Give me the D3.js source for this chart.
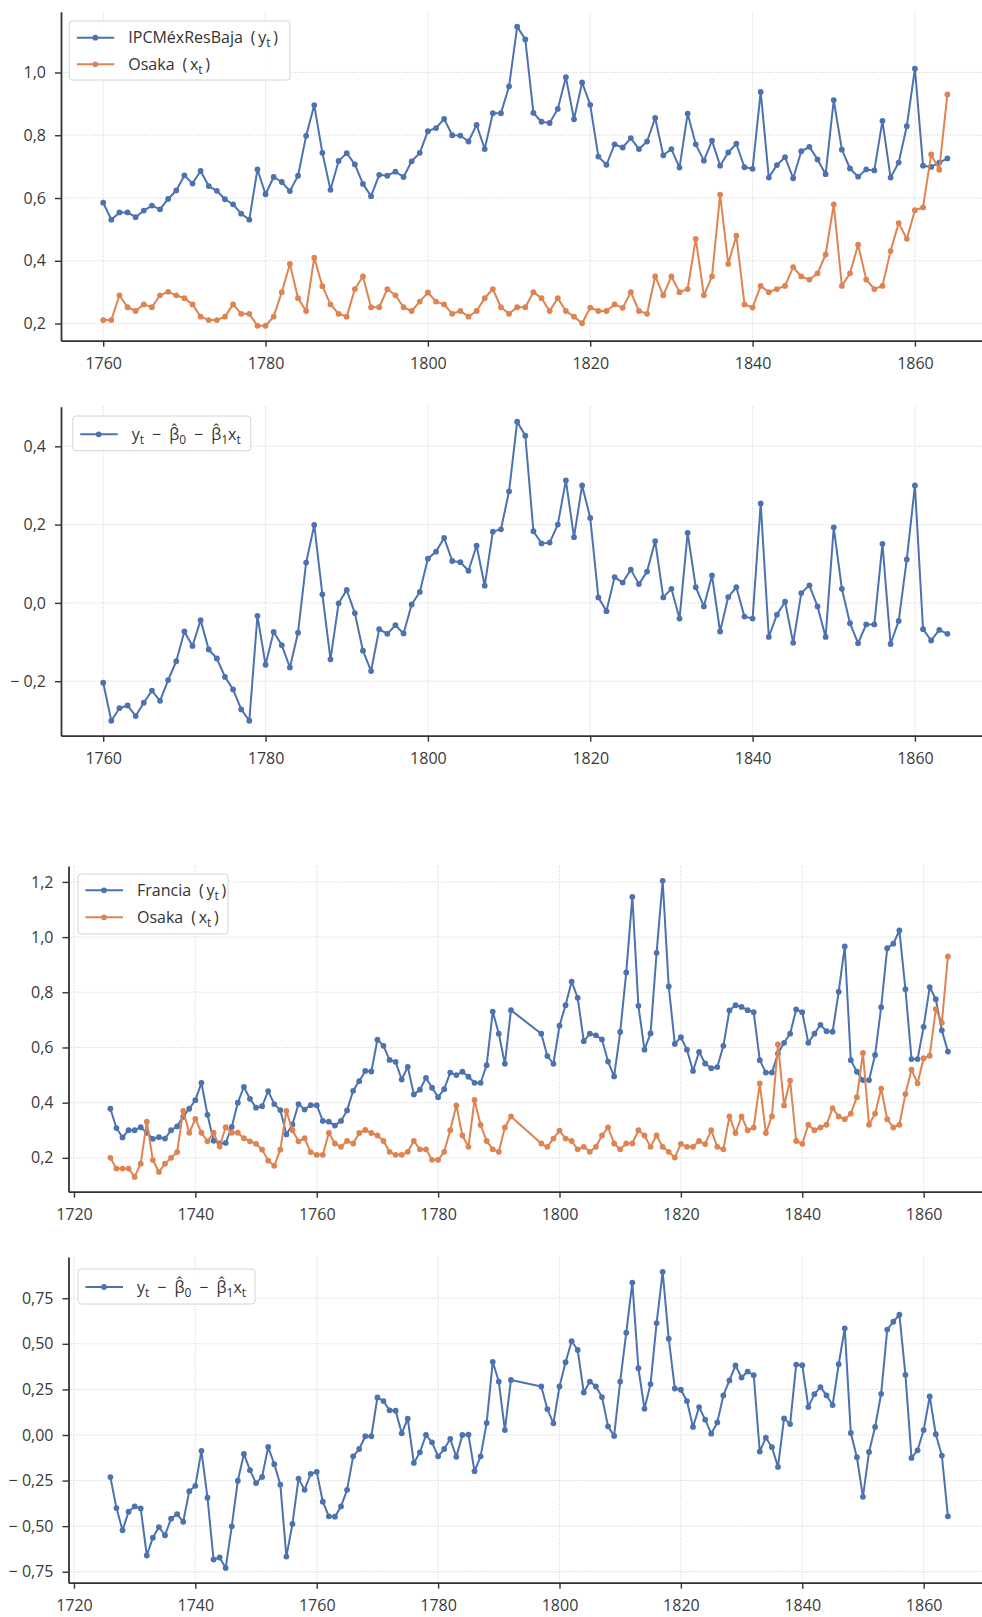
<!DOCTYPE html>
<html>
<head>
<meta charset="utf-8">
<script src="https://cdn.jsdelivr.net/npm/d3@7"></script>
<style>
  body { margin: 0; background: #fff; }
  text { font-family: "Open Sans", sans-serif; }
</style>
</head>
<body>
<div class="chart-container"></div>
<script>
// years for the Mexico / Osaka panels
const yearsMx = [
  1760,1761,1762,1763,1764,1765,1766,1767,1768,1769,
  1770,1771,1772,1773,1774,1775,1776,1777,1778,1779,
  1780,1781,1782,1783,1784,1785,1786,1787,1788,1789,
  1790,1791,1792,1793,1794,1795,1796,1797,1798,1799,
  1800,1801,1802,1803,1804,1805,1806,1807,1808,1809,
  1810,1811,1812,1813,1814,1815,1816,1817,1818,1819,
  1820,1821,1822,1823,1824,1825,1826,1827,1828,1829,
  1830,1831,1832,1833,1834,1835,1836,1837,1838,1839,
  1840,1841,1842,1843,1844,1845,1846,1847,1848,1849,
  1850,1851,1852,1853,1854,1855,1856,1857,1858,1859,
  1860,1861,1862,1863,1864]

// IPCMéxResBaja (y_t)
const ipcMex = [
  0.585,0.531,0.554,0.554,0.539,0.560,0.576,0.564,0.597,0.624,
  0.672,0.646,0.686,0.638,0.623,0.596,0.580,0.550,0.531,0.691,
  0.612,0.667,0.651,0.622,0.671,0.798,0.896,0.744,0.626,0.718,
  0.743,0.707,0.645,0.606,0.674,0.671,0.684,0.667,0.717,0.744,
  0.813,0.823,0.852,0.800,0.799,0.780,0.833,0.756,0.870,0.870,
  0.956,1.146,1.105,0.871,0.843,0.839,0.884,0.985,0.851,0.968,
  0.897,0.732,0.706,0.771,0.761,0.791,0.756,0.780,0.855,0.736,
  0.756,0.697,0.869,0.771,0.719,0.783,0.703,0.745,0.773,0.698,
  0.693,0.938,0.665,0.705,0.730,0.663,0.749,0.763,0.723,0.676,
  0.912,0.754,0.694,0.668,0.691,0.688,0.846,0.665,0.713,0.829,
  1.012,0.703,0.699,0.713,0.726]

// Osaka (x_t), 1760-1864
const osaka = [
  0.211,0.211,0.290,0.252,0.240,0.261,0.252,0.290,0.301,0.290,
  0.281,0.261,0.222,0.211,0.211,0.222,0.261,0.231,0.231,0.193,
  0.193,0.222,0.300,0.390,0.281,0.240,0.410,0.319,0.261,0.231,
  0.222,0.310,0.350,0.252,0.252,0.310,0.290,0.252,0.240,0.270,
  0.299,0.270,0.261,0.231,0.240,0.222,0.240,0.281,0.310,0.252,
  0.231,0.252,0.252,0.300,0.281,0.240,0.281,0.240,0.222,0.201,
  0.251,0.240,0.240,0.261,0.250,0.300,0.240,0.231,0.350,0.290,
  0.350,0.300,0.310,0.470,0.290,0.350,0.611,0.390,0.480,0.261,
  0.251,0.320,0.300,0.310,0.320,0.380,0.350,0.340,0.360,0.420,
  0.580,0.320,0.360,0.451,0.340,0.310,0.320,0.431,0.520,0.470,
  0.561,0.570,0.739,0.690,0.930]

// residuals, Mexico regression
const residMx = [
  -0.204,-0.301,-0.269,-0.262,-0.289,-0.255,-0.224,-0.250,-0.197,-0.149,
  -0.073,-0.110,-0.044,-0.119,-0.142,-0.189,-0.221,-0.272,-0.301,-0.033,
  -0.158,-0.074,-0.108,-0.165,-0.076,0.103,0.199,0.022,-0.144,-0.001,
  0.033,-0.026,-0.122,-0.174,-0.067,-0.079,-0.057,-0.078,-0.004,0.028,
  0.113,0.131,0.166,0.107,0.104,0.082,0.146,0.044,0.182,0.188,
  0.285,0.463,0.427,0.183,0.152,0.154,0.200,0.313,0.168,0.300,
  0.217,0.014,-0.021,0.066,0.052,0.085,0.048,0.080,0.158,0.014,
  0.036,-0.040,0.179,0.040,-0.009,0.070,-0.073,0.015,0.040,-0.035,
  -0.040,0.254,-0.087,-0.030,0.003,-0.102,0.025,0.045,-0.009,-0.087,
  0.193,0.036,-0.052,-0.103,-0.055,-0.055,0.151,-0.105,-0.046,0.111,
  0.300,-0.067,-0.096,-0.069,-0.079]

// years for the France panels (no data 1793-1796)
const yearsFr = [
  1726,1727,1728,1729,1730,1731,1732,1733,1734,1735,
  1736,1737,1738,1739,1740,1741,1742,1743,1744,1745,
  1746,1747,1748,1749,1750,1751,1752,1753,1754,1755,
  1756,1757,1758,1759,1760,1761,1762,1763,1764,1765,
  1766,1767,1768,1769,1770,1771,1772,1773,1774,1775,
  1776,1777,1778,1779,1780,1781,1782,1783,1784,1785,
  1786,1787,1788,1789,1790,1791,1792,
  1797,1798,1799,1800,1801,1802,1803,1804,1805,1806,
  1807,1808,1809,1810,1811,1812,1813,1814,1815,1816,
  1817,1818,1819,1820,1821,1822,1823,1824,1825,1826,
  1827,1828,1829,1830,1831,1832,1833,1834,1835,1836,
  1837,1838,1839,1840,1841,1842,1843,1844,1845,1846,
  1847,1848,1849,1850,1851,1852,1853,1854,1855,1856,
  1857,1858,1859,1860,1861,1862,1863,1864]

// Francia (y_t)
const francia = [
  0.378,0.308,0.274,0.300,0.300,0.311,0.291,0.269,0.275,0.270,
  0.300,0.314,0.349,0.378,0.409,0.472,0.356,0.262,0.252,0.254,
  0.312,0.400,0.457,0.414,0.382,0.387,0.442,0.395,0.373,0.285,
  0.321,0.395,0.375,0.391,0.391,0.334,0.331,0.317,0.334,0.372,
  0.443,0.478,0.515,0.513,0.628,0.606,0.555,0.548,0.484,0.530,
  0.430,0.447,0.490,0.454,0.420,0.449,0.509,0.500,0.512,0.494,
  0.472,0.472,0.536,0.730,0.650,0.541,0.735,
  0.650,0.569,0.541,0.679,0.753,0.839,0.780,0.623,0.650,0.644,
  0.629,0.549,0.495,0.656,0.872,1.146,0.751,0.592,0.651,0.943,
  1.204,0.821,0.613,0.637,0.592,0.515,0.584,0.542,0.525,0.529,
  0.606,0.734,0.753,0.747,0.735,0.728,0.554,0.509,0.509,0.578,
  0.617,0.650,0.738,0.728,0.617,0.650,0.682,0.659,0.657,0.802,
  0.966,0.554,0.512,0.482,0.482,0.573,0.746,0.960,0.976,1.024,
  0.811,0.558,0.558,0.675,0.819,0.775,0.662,0.585]

// Osaka (x_t), 1726-1759
const yearsEarly = [
  1726,1727,1728,1729,1730,1731,1732,1733,1734,1735,
  1736,1737,1738,1739,1740,1741,1742,1743,1744,1745,
  1746,1747,1748,1749,1750,1751,1752,1753,1754,1755,
  1756,1757,1758,1759]
const osakaEarly = [
  0.200,0.161,0.161,0.161,0.131,0.179,0.331,0.192,0.149,0.179,
  0.200,0.221,0.370,0.291,0.341,0.291,0.260,0.291,0.241,0.311,
  0.291,0.291,0.271,0.260,0.251,0.230,0.190,0.171,0.230,0.370,
  0.300,0.260,0.271,0.221]

// residuals, France regression
const residFr = [
  -0.231,-0.401,-0.523,-0.421,-0.392,-0.403,-0.661,-0.563,-0.505,-0.550,
  -0.459,-0.434,-0.476,-0.308,-0.279,-0.087,-0.344,-0.683,-0.672,-0.729,
  -0.501,-0.251,-0.104,-0.193,-0.264,-0.230,-0.066,-0.160,-0.272,-0.667,
  -0.488,-0.239,-0.301,-0.213,-0.202,-0.366,-0.446,-0.448,-0.392,-0.301,
  -0.117,-0.077,-0.007,-0.007,0.206,0.186,0.135,0.133,0.009,0.089,
  -0.153,-0.095,0.000,-0.040,-0.117,-0.077,-0.022,-0.120,0.000,0.002,
  -0.199,-0.117,0.066,0.401,0.293,0.027,0.302,
  0.266,0.142,0.064,0.266,0.399,0.514,0.466,0.233,0.293,0.266,
  0.208,0.047,-0.005,0.293,0.561,0.836,0.366,0.144,0.279,0.614,
  0.895,0.528,0.255,0.248,0.186,0.044,0.153,0.084,0.007,0.069,
  0.217,0.299,0.381,0.315,0.348,0.328,-0.091,-0.015,-0.067,-0.175,
  0.091,0.060,0.386,0.383,0.153,0.224,0.262,0.217,0.164,0.388,
  0.585,0.011,-0.122,-0.339,-0.093,0.044,0.226,0.578,0.621,0.660,
  0.330,-0.126,-0.084,0.027,0.211,0.004,-0.113,-0.446]

// tick values
const xTicksMx = [1760, 1780, 1800, 1820, 1840, 1860]
const xTicksFr = [1720, 1740, 1760, 1780, 1800, 1820, 1840, 1860]
const yTicks1 = [0.2, 0.4, 0.6, 0.8, 1.0]
const yTicks2 = [-0.2, 0.0, 0.2, 0.4]
const yTicks3 = [0.2, 0.4, 0.6, 0.8, 1.0, 1.2]
const yTicks4 = [-0.75, -0.5, -0.25, 0.0, 0.25, 0.5, 0.75]

const blue = '#4c72b0', orange = '#dd8452'

// osaka values aligned to the france years
const osakaByYear = new Map()
yearsEarly.forEach((yr, i) => osakaByYear.set(yr, osakaEarly[i]))
yearsMx.forEach((yr, i) => osakaByYear.set(yr, osaka[i]))
const osakaFr = yearsFr.map(yr => osakaByYear.get(yr))

const pairs = (xs, ys) => xs.map((v, i) => [v, ys[i]])

svg = d3.select('.chart-container').append('svg').attr('width', 982).attr('height', 1617)

// comma decimals, matplotlib style minus with a gap
function fmt(p) {
  const f = d3.format('.' + p + 'f')
  return d => {
    const s = f(Math.abs(d)).replace('.', ',')
    return d < -1e-9 ? '\u2212 ' + s : s
  }
}

// pad extent by 5% like matplotlib
function padded(vals) {
  const [a, b] = d3.extent(vals)
  const m = (b - a) * 0.05
  return [a - m, b + m]
}

function drawPanel(cfg) {
  const g = svg.append('g')
  const x = d3.scaleLinear().domain(cfg.xDom).range([cfg.left, cfg.right])
  const y = d3.scaleLinear().domain(cfg.yDom).range([cfg.bottom, cfg.top])

  // dotted grid
  g.append('g').selectAll('line').data(cfg.xTicks).join('line')
    .attr('x1', d => x(d)).attr('x2', d => x(d))
    .attr('y1', cfg.top).attr('y2', cfg.bottom)
    .attr('stroke', '#cccccc').attr('stroke-width', 0.9).attr('stroke-dasharray', '1,1.6')
  g.append('g').selectAll('line').data(cfg.yTicks).join('line')
    .attr('x1', cfg.left).attr('x2', cfg.right)
    .attr('y1', d => y(d)).attr('y2', d => y(d))
    .attr('stroke', '#cccccc').attr('stroke-width', 0.9).attr('stroke-dasharray', '1,1.6')

  // axes
  const xAxis = d3.axisBottom(x).tickValues(cfg.xTicks).tickSize(6).tickSizeOuter(0)
    .tickPadding(11).tickFormat(d3.format('d'))
  const yAxis = d3.axisLeft(y).tickValues(cfg.yTicks).tickSize(6).tickSizeOuter(0)
    .tickPadding(9).tickFormat(cfg.yFmt)
  const ax = g.append('g').attr('transform', `translate(0,${cfg.bottom})`).call(xAxis)
  const ay = g.append('g').attr('transform', `translate(${cfg.left},0)`).call(yAxis)
  ;[ax, ay].forEach(a => {
    a.attr('font-family', null).attr('font-size', null)
    a.select('.domain').attr('stroke', '#333').attr('stroke-width', 1.8)
    a.selectAll('.tick line').attr('stroke', '#333').attr('stroke-width', 1.4)
    a.selectAll('.tick text').attr('fill', '#3a3a3a').style('font-size', '16px')
      .style('white-space', 'pre')
  })

  // series
  const line = d3.line().x(d => x(d[0])).y(d => y(d[1]))
  cfg.series.forEach(s => {
    g.append('path').datum(s.data)
      .attr('d', line).attr('fill', 'none').attr('stroke', s.color)
      .attr('stroke-width', 2).attr('stroke-linejoin', 'round')
    g.append('g').selectAll('circle').data(s.data).join('circle')
      .attr('cx', d => x(d[0])).attr('cy', d => y(d[1])).attr('r', 2.9)
      .attr('fill', s.color)
  })

  // legend
  const L = cfg.legend
  g.append('rect').attr('x', L.x).attr('y', L.y).attr('width', L.w).attr('height', L.h)
    .attr('rx', 3).attr('fill', 'white').attr('fill-opacity', 0.85)
    .attr('stroke', '#d4d4d4').attr('stroke-width', 1)
  L.items.forEach((it, i) => {
    const ly = L.y + L.first + i * L.step
    g.append('line').attr('x1', L.x + 7.5).attr('x2', L.x + 45).attr('y1', ly).attr('y2', ly)
      .attr('stroke', it.color).attr('stroke-width', 2)
    g.append('circle').attr('cx', L.x + 26).attr('cy', ly).attr('r', 2.9).attr('fill', it.color)
    const t = g.append('text').attr('x', L.x + 59).attr('y', ly + 5.5)
      .attr('fill', '#333').style('font-size', '16px').style('white-space', 'pre')
    // strings are normal text, [s] is a subscript
    let shift = 0
    it.parts.forEach(p => {
      if (typeof p === 'string') {
        t.append('tspan').attr('dy', -shift).text(p)
        shift = 0
      } else {
        t.append('tspan').attr('dy', 4 - shift).style('font-size', '12px').text(p[0])
        shift = 4
      }
    })
  })
}

const residParts = ['y', ['t'], '\u2002\u2212\u2002', '\u03b2\u0302', ['0'], '\u2002\u2212\u2002',
  '\u03b2\u0302', ['1'], 'x', ['t']]

// panel 1: IPCMéxResBaja vs Osaka
drawPanel({
  left: 61, right: 989.6, top: 11.7, bottom: 340.7,
  xDom: padded(yearsMx), yDom: padded(ipcMex.concat(osaka)),
  xTicks: xTicksMx, yTicks: yTicks1, yFmt: fmt(1),
  series: [{data: pairs(yearsMx, ipcMex), color: blue}, {data: pairs(yearsMx, osaka), color: orange}],
  legend: {x: 69.3, y: 21, w: 220.7, h: 59, first: 16.7, step: 26.6, items: [
    {color: blue, parts: ['IPCM\u00e9xResBaja\u2002(\u2009y', ['t'], '\u2009)']},
    {color: orange, parts: ['Osaka\u2002(\u2009x', ['t'], '\u2009)']}]}
})

// panel 2: residuals Mexico
drawPanel({
  left: 61, right: 989.6, top: 406.7, bottom: 735.7,
  xDom: padded(yearsMx), yDom: padded(residMx),
  xTicks: xTicksMx, yTicks: yTicks2, yFmt: fmt(1),
  series: [{data: pairs(yearsMx, residMx), color: blue}],
  legend: {x: 72.7, y: 416, w: 178, h: 34.7, first: 18.3, step: 0, items: [
    {color: blue, parts: residParts}]}
})

// panel 3: Francia vs Osaka
drawPanel({
  left: 68.5, right: 989.8, top: 866, bottom: 1191.7,
  xDom: padded(yearsFr), yDom: padded(francia.concat(osakaFr)),
  xTicks: xTicksFr, yTicks: yTicks3, yFmt: fmt(1),
  series: [{data: pairs(yearsFr, francia), color: blue}, {data: pairs(yearsFr, osakaFr), color: orange}],
  legend: {x: 78, y: 874, w: 150, h: 60, first: 16.3, step: 27, items: [
    {color: blue, parts: ['Francia\u2002(\u2009y', ['t'], '\u2009)']},
    {color: orange, parts: ['Osaka\u2002(\u2009x', ['t'], '\u2009)']}]}
})

// panel 4: residuals France
drawPanel({
  left: 68.5, right: 989.8, top: 1257, bottom: 1582.7,
  xDom: padded(yearsFr), yDom: padded(residFr),
  xTicks: xTicksFr, yTicks: yTicks4, yFmt: fmt(2),
  series: [{data: pairs(yearsFr, residFr), color: blue}],
  legend: {x: 78, y: 1269, w: 177, h: 35, first: 18, step: 0, items: [
    {color: blue, parts: residParts}]}
})
</script>
</body>
</html>
